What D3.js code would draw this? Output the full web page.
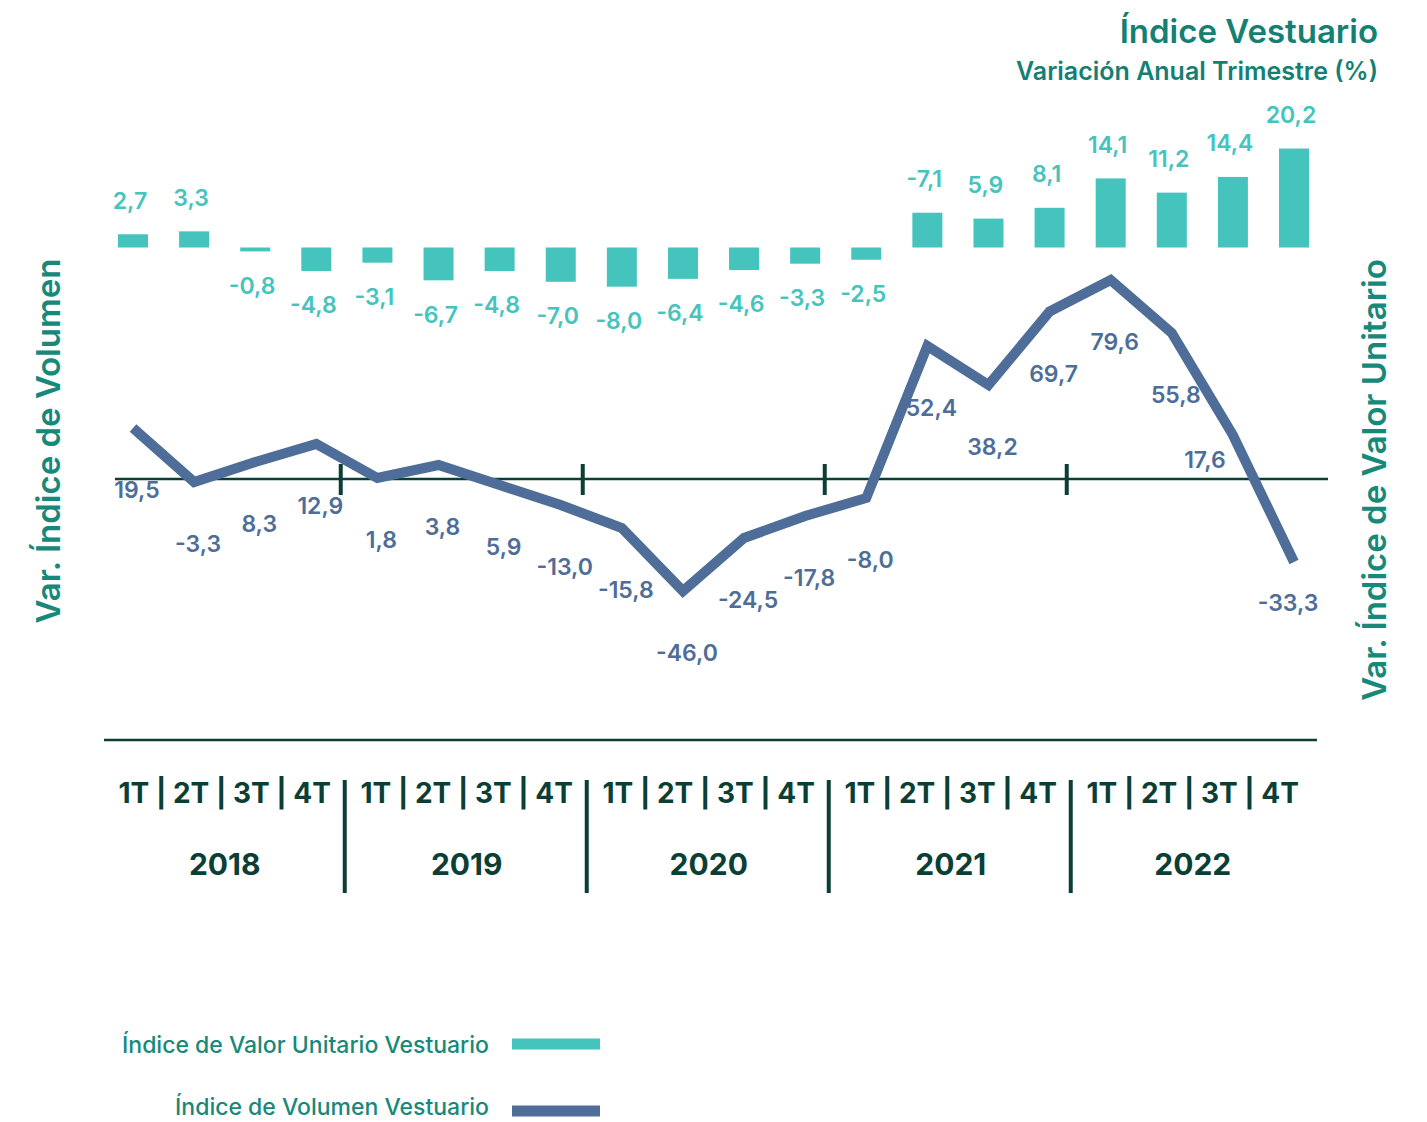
<!DOCTYPE html>
<html>
<head>
<meta charset="utf-8">
<script src="https://cdn.jsdelivr.net/npm/d3@7"></script>
<style>
  body { margin: 0; background: #fff; }
  text { font-family: Inter, "Noto Sans", sans-serif; }
</style>
</head>
<body>
<div id="chart"></div>
<script>
// data
const years = ["2018", "2019", "2020", "2021", "2022"];
const quarterNames = ["1T", "2T", "3T", "4T"];

// Índice de Valor Unitario (bars) as drawn, and the printed labels
const valorValues = [2.7, 3.3, -0.8, -4.8, -3.1, -6.7, -4.8, -7.0, -8.0, -6.4,
                     -4.6, -3.3, -2.5, 7.1, 5.9, 8.1, 14.1, 11.2, 14.4, 20.2];
const valorLabels = ["2,7", "3,3", "-0,8", "-4,8", "-3,1", "-6,7", "-4,8", "-7,0", "-8,0", "-6,4",
                     "-4,6", "-3,3", "-2,5", "-7,1", "5,9", "8,1", "14,1", "11,2", "14,4", "20,2"];

// Índice de Volumen (line) as drawn, and the printed labels
const volumenValues = [20.4, -1.2, 6.8, 14.0, 0.4, 5.6, -2.4, -10.4, -19.6, -44.8,
                       -23.6, -14.8, -7.6, 53.2, 37.6, 67.0, 79.6, 58.4, 17.6, -33.2];
const volumenLabels = ["19,5", "-3,3", "8,3", "12,9", "1,8", "3,8", "5,9", "-13,0", "-15,8", "-46,0",
                       "-24,5", "-17,8", "-8,0", "52,4", "38,2", "69,7", "79,6", "55,8", "17,6", "-33,3"];

const teal = "#45c4be", slate = "#4e6d98", dark = "#0b3f36", titleCol = "#157f73", axisTitleCol = "#17897a";

const W = 1427, H = 1122;
const quarters = [];
years.forEach(y => quarterNames.forEach(q => quarters.push(y + "-" + q)));

const svg = d3.select("#chart").append("svg")
    .attr("width", W)
    .attr("height", H);

// plot area
const x = d3.scalePoint()
    .domain(quarters)
    .range([133, 1294]);
const barW = 30;

// the category axis underneath is drawn a touch narrower
const xAxis = d3.scalePoint()
    .domain(quarters)
    .range([133, 1282.5]);

const yBar = d3.scaleLinear()
    .domain([0, 20])
    .range([247.5, 149.5]);

const yLine = d3.scaleLinear()
    .domain([0, 80])
    .range([479, 279]);

// year boundaries (between 4T and next 1T)
const boundaries = years.slice(1).map((y, i) => (xAxis(quarters[i * 4 + 3]) + xAxis(quarters[i * 4 + 4])) / 2);

// titles
svg.append("text")
    .attr("x", 1378).attr("y", 43)
    .attr("text-anchor", "end")
    .attr("font-size", 33).attr("font-weight", 600)
    .attr("fill", titleCol)
    .text("Índice Vestuario");
svg.append("text")
    .attr("x", 1378).attr("y", 80)
    .attr("text-anchor", "end")
    .attr("font-size", 25).attr("font-weight", 600)
    .attr("fill", titleCol)
    .text("Variación Anual Trimestre (%)");

// axis titles
svg.append("text")
    .attr("transform", "translate(48,441) rotate(-90)")
    .attr("text-anchor", "middle").attr("dominant-baseline", "central")
    .attr("font-size", 33).attr("font-weight", 600)
    .attr("fill", axisTitleCol)
    .text("Var. Índice de Volumen");
svg.append("text")
    .attr("transform", "translate(1374,480) rotate(-90)")
    .attr("text-anchor", "middle").attr("dominant-baseline", "central")
    .attr("font-size", 33).attr("font-weight", 600)
    .attr("fill", axisTitleCol)
    .text("Var. Índice de Valor Unitario");

// bars
svg.append("g").selectAll("rect")
    .data(valorValues)
    .join("rect")
    .attr("x", (d, i) => x(quarters[i]) - barW / 2)
    .attr("y", d => Math.min(yBar(d), yBar(0)))
    .attr("width", barW)
    .attr("height", d => Math.abs(yBar(d) - yBar(0)))
    .attr("fill", teal);

svg.append("g").selectAll("text")
    .data(valorValues)
    .join("text")
    .attr("x", (d, i) => x(quarters[i]) - 3)
    .attr("y", d => d >= 0 ? yBar(d) - 34 : yBar(d) + 34)
    .attr("dy", "0.36em")
    .attr("text-anchor", "middle")
    .attr("font-size", 23).attr("font-weight", 600)
    .attr("fill", teal)
    .text((d, i) => valorLabels[i]);

// zero line of the volume index, with year ticks
svg.append("line")
    .attr("x1", 115).attr("x2", 1328)
    .attr("y1", yLine(0)).attr("y2", yLine(0))
    .attr("stroke", dark).attr("stroke-width", 2.5);
svg.append("g").selectAll("line")
    .data(boundaries)
    .join("line")
    .attr("x1", d => d - 4).attr("x2", d => d - 4)
    .attr("y1", yLine(0) - 15).attr("y2", yLine(0) + 16)
    .attr("stroke", dark).attr("stroke-width", 4);

// volume line
const line = d3.line()
    .x((d, i) => x(quarters[i]))
    .y(d => yLine(d));
svg.append("path")
    .datum(volumenValues)
    .attr("fill", "none")
    .attr("stroke", slate)
    .attr("stroke-width", 10)
    .attr("stroke-linejoin", "miter")
    .attr("d", line);

// a couple of labels sit away from the usual spot
const labelNudge = { 18: [-32, -37], 19: [-10, -21] };
svg.append("g").selectAll("text")
    .data(volumenValues)
    .join("text")
    .attr("x", (d, i) => x(quarters[i]) + 4 + (labelNudge[i] ? labelNudge[i][0] : 0))
    .attr("y", (d, i) => yLine(d) + 62 + (labelNudge[i] ? labelNudge[i][1] : 0))
    .attr("dy", "0.36em")
    .attr("text-anchor", "middle")
    .attr("font-size", 23).attr("font-weight", 600)
    .attr("fill", slate)
    .text((d, i) => volumenLabels[i]);

// bottom axis
svg.append("line")
    .attr("x1", 104).attr("x2", 1317)
    .attr("y1", 740).attr("y2", 740)
    .attr("stroke", dark).attr("stroke-width", 2.5);

svg.append("g").selectAll("line")
    .data(boundaries)
    .join("line")
    .attr("x1", d => d).attr("x2", d => d)
    .attr("y1", 780).attr("y2", 893)
    .attr("stroke", dark).attr("stroke-width", 4);

const yearCenter = (y, i) => (xAxis(quarters[i * 4]) + xAxis(quarters[i * 4 + 3])) / 2 + 1;

svg.append("g").selectAll("text")
    .data(years)
    .join("text")
    .attr("x", yearCenter)
    .attr("y", 803)
    .attr("text-anchor", "middle")
    .attr("font-size", 28).attr("font-weight", 700)
    .attr("fill", dark)
    .text(quarterNames.join(" | "));

svg.append("g").selectAll("text")
    .data(years)
    .join("text")
    .attr("x", yearCenter)
    .attr("y", 875)
    .attr("text-anchor", "middle")
    .attr("font-size", 30).attr("font-weight", 700)
    .attr("fill", dark)
    .text(d => d);

// legend
const legendItems = [
    { name: "Índice de Valor Unitario Vestuario", color: teal, y: 1044, textY: 1053 },
    { name: "Índice de Volumen Vestuario", color: slate, y: 1111, textY: 1115 }
];
const lg = svg.append("g").selectAll("g")
    .data(legendItems)
    .join("g");
lg.append("text")
    .attr("x", 489).attr("y", d => d.textY)
    .attr("text-anchor", "end")
    .attr("font-size", 23).attr("font-weight", 500)
    .attr("fill", axisTitleCol)
    .text(d => d.name);
lg.append("rect")
    .attr("x", 512).attr("y", d => d.y - 5.5)
    .attr("width", 88).attr("height", 11)
    .attr("fill", d => d.color);
</script>
</body>
</html>
